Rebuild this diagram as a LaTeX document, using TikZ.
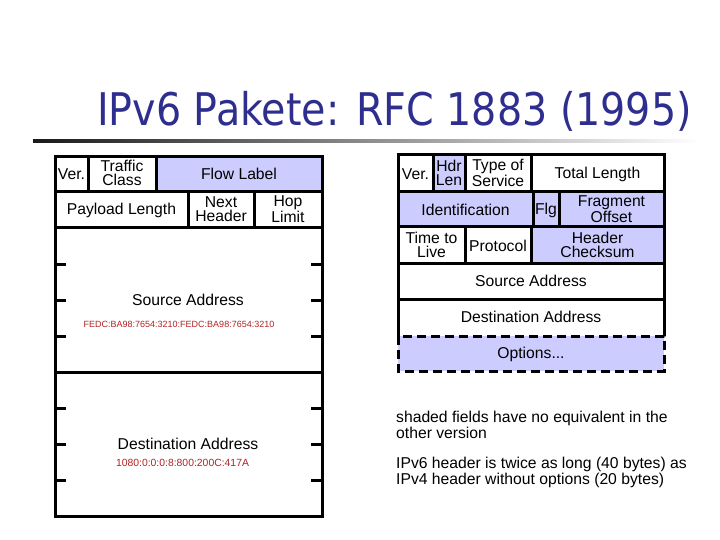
\documentclass[tikz,border=0pt]{standalone}
\usepackage{fontspec}
\setmainfont{Liberation Sans}
\newfontfamily\titlefont[FakeStretch=0.88]{DejaVu Sans}

\tikzset{
  field/.style={font=\fontsize{15.7}{14.5}\selectfont, align=center, inner sep=0pt},
  addr/.style={font=\fontsize{9}{10}\selectfont, text=addrRed, inner sep=0pt},
  note/.style={font=\fontsize{15.7}{15.5}\selectfont, align=left, anchor=north west, inner sep=0pt},
  frame/.style={line width=3pt},
}

\begin{document}
\begin{tikzpicture}[x=1pt,y=-1pt]
\definecolor{headerShade}{HTML}{CCCCFF}
\definecolor{titleBlue}{HTML}{2E2E8F}
\definecolor{addrRed}{HTML}{B22222}
\useasboundingbox (0,0) rectangle (720,540);
% title and rule below it
\node[font=\titlefont\fontsize{45}{50}\selectfont, text=titleBlue, anchor=base west, inner sep=0pt] (title) at (97,126) {IPv6 Pakete: RFC 1883 (1995)};
\shade[left color=black!90, right color=white] (33,139.8) rectangle (700,142.2);

% IPv6 header (left)
\fill[headerShade] (156,157) rectangle (322,192);
\draw[frame] (55,157) rectangle (322,516);
\foreach \y in {192,228,372} {
  \draw[frame] (55,\y) -- (322,\y);
}
\draw[frame] (88,157) -- (88,192);
\draw[frame] (156,157) -- (156,192);
\draw[frame] (188,192) -- (188,228);
\draw[frame] (254,192) -- (254,228);
\foreach \y in {264,300,336,408,444,480} {
  \draw[frame] (55,\y) -- (66,\y);
  \draw[frame] (311,\y) -- (322,\y);
}
\node[field] (sixVer) at (71.5,174) {Ver.};
\node[field] (sixClass) at (122,173) {Traffic\\Class};
\node[field] (sixFlow) at (239,174) {Flow Label};
\node[field] (sixPayload) at (121.5,210) {Payload Length};
\node[field] (sixNext) at (221,209) {Next\\Header};
\node[field] (sixHop) at (288,209) {Hop\\Limit};
\node[field] (sixSrc) at (188,300) {Source Address};
\node[addr] (sixSrcEx) at (179,324) {FEDC:BA98:7654:3210:FEDC:BA98:7654:3210};
\node[field] (sixDst) at (188,444) {Destination Address};
\node[addr, font=\fontsize{10.4}{11}\selectfont] (sixDstEx) at (182.5,463) {1080:0:0:0:8:800:200C:417A};

% IPv4 header (right)
\fill[headerShade] (433,155) rectangle (465,192);
\fill[headerShade] (398,192) rectangle (664,227);
\fill[headerShade] (531,227) rectangle (664,263);
\fill[headerShade] (398,336) rectangle (664,371);
\draw[frame] (398,336) -- (398,155) -- (664,155) -- (664,336);
\foreach \y in {192,227,263,299} {
  \draw[frame] (398,\y) -- (664,\y);
}
\draw[frame] (433,155) -- (433,192);
\draw[frame] (465,155) -- (465,192);
\draw[frame] (531,155) -- (531,192);
\draw[frame] (533,192) -- (533,227);
\draw[frame] (559,192) -- (559,227);
\draw[frame] (465,227) -- (465,263);
\draw[frame] (531,227) -- (531,263);
\draw[frame, dash pattern=on 9pt off 5pt] (398,336) rectangle (664,371);
\node[field] (fourVer) at (415.5,174) {Ver.};
\node[field] (fourHdr) at (449,173) {Hdr\\Len};
\node[field] (fourTos) at (498,173) {Type of\\Service};
\node[field] (fourLen) at (597.5,174) {Total Length};
\node[field] (fourId) at (465.5,210) {Identification};
\node[field] (fourFlg) at (546,210) {Flg};
\node[field] (fourFrag) at (611.5,209) {Fragment\\Offset};
\node[field] (fourTtl) at (431.5,245) {Time to\\Live};
\node[field] (fourProto) at (498,246) {Protocol};
\node[field] (fourSum) at (597.5,245) {Header\\Checksum};
\node[field] (fourSrc) at (531,281) {Source Address};
\node[field] (fourDst) at (531,317) {Destination Address};
\node[field] (fourOpt) at (531,354) {Options...};

% remarks
\node[note] (shadeNote) at (396,411) {shaded fields have no equivalent in the\\other version};
\node[note] (lenNote) at (396,457) {IPv6 header is twice as long (40 bytes) as\\IPv4 header without options (20 bytes)};
\end{tikzpicture}
\end{document}
